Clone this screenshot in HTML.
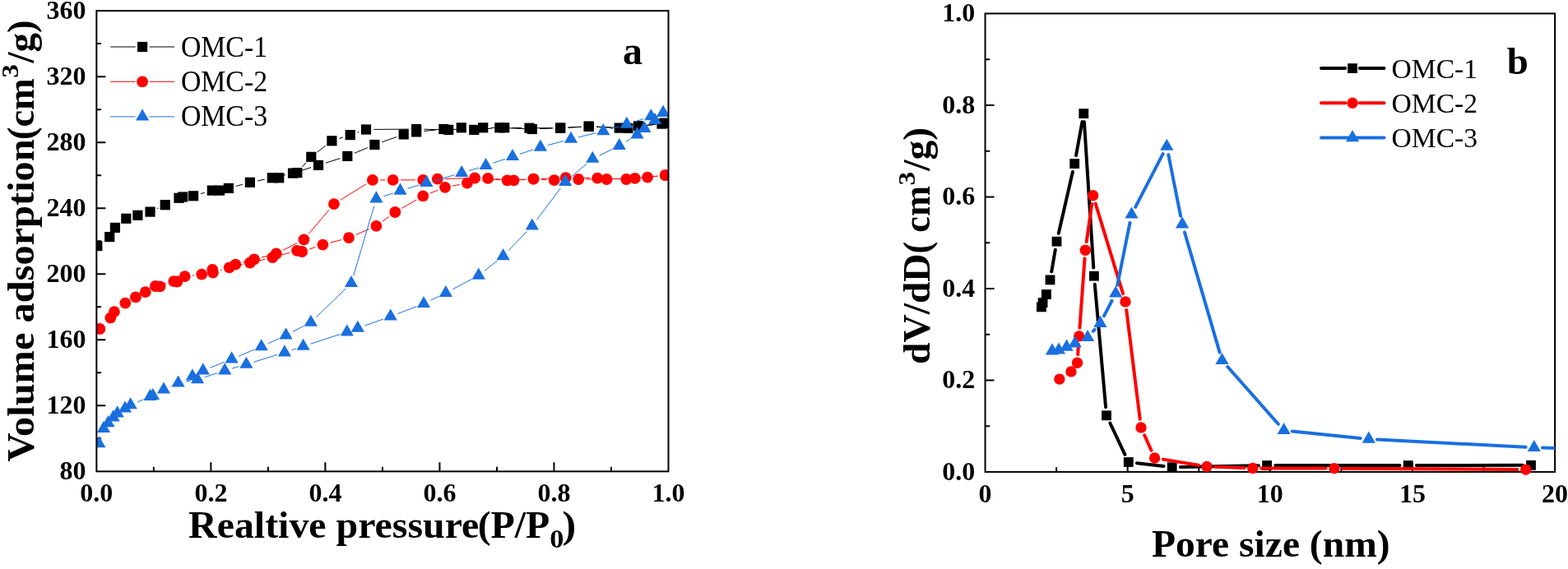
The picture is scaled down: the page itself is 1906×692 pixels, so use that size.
<!DOCTYPE html>
<html><head><meta charset="utf-8"><title>Figure</title>
<style>html,body{margin:0;padding:0;background:#fff}svg{display:block}</style>
</head><body>
<svg width="1906" height="692" viewBox="0 0 1906 692">
<rect width="1906" height="692" fill="#fff"/>
<defs><clipPath id="cl"><rect x="117.35" y="13.1" width="695.15" height="560.25"/></clipPath><clipPath id="cr"><rect x="1197.55" y="16.45" width="692.55" height="570"/></clipPath></defs>
<path d="M186.87 573.35v-5.7M256.38 573.35v-11M325.89 573.35v-5.7M395.41 573.35v-11M464.92 573.35v-5.7M534.44 573.35v-11M603.96 573.35v-5.7M673.47 573.35v-11M742.99 573.35v-5.7M117.35 533.33h5.7M117.35 493.31h11M117.35 453.30h5.7M117.35 413.28h11M117.35 373.26h5.7M117.35 333.24h11M117.35 293.23h5.7M117.35 253.21h11M117.35 213.19h5.7M117.35 173.17h11M117.35 133.15h5.7M117.35 93.14h11M117.35 53.12h5.7" stroke="#000" stroke-width="2" fill="none"/>
<g clip-path="url(#cl)">
<path d="M190.94 253.70L192.26 253.10M244.02 235.67L248.88 234.23M267.02 230.36L268.68 230.14M286.87 226.45L294.93 224.25M313.01 219.94L321.69 218.16M339.87 214.25L346.93 212.65M364.88 207.82L378.12 203.68M395.88 198.13L413.42 192.67M430.87 186.30L446.83 179.60M464.16 172.87L481.94 166.53M515.35 159.46L530.15 157.94M548.70 157.23L567.00 157.67M585.57 157.13L598.13 156.07M616.69 155.70L637.51 156.60M656.09 156.62L671.81 155.98M690.39 155.12L706.61 154.28M725.19 154.25L743.41 155.15M761.95 154.65L766.75 154.15M785.26 152.36L795.24 151.44" stroke="#000000" stroke-width="1.0" fill="none" stroke-linecap="butt"/>
<path d="M367.45 203.12L372.15 197.78M385.64 185.09L396.06 177.01M412.25 168.44L416.85 166.96M434.50 161.09L436.20 160.51M454.30 157.42L496.80 157.08M515.40 157.21L535.90 157.69M570.10 155.30L577.90 155.30M596.50 155.30L603.90 155.30M622.50 155.42L634.20 155.58M652.80 155.70L671.90 155.70M690.48 155.16L706.32 154.24M724.89 154.13L754.11 155.47M772.61 154.59L798.49 150.91" stroke="#000000" stroke-width="1.0" fill="none" stroke-linecap="butt"/>
<rect x="112.20" y="293.00" width="12.20" height="12.20" fill="#000000"/>
<rect x="127.10" y="282.00" width="12.20" height="12.20" fill="#000000"/>
<rect x="133.80" y="270.80" width="12.20" height="12.20" fill="#000000"/>
<rect x="147.20" y="259.70" width="12.20" height="12.20" fill="#000000"/>
<rect x="161.30" y="255.70" width="12.20" height="12.20" fill="#000000"/>
<rect x="176.40" y="251.50" width="12.20" height="12.20" fill="#000000"/>
<rect x="194.60" y="243.10" width="12.20" height="12.20" fill="#000000"/>
<rect x="211.40" y="234.70" width="12.20" height="12.20" fill="#000000"/>
<rect x="229.00" y="232.20" width="12.20" height="12.20" fill="#000000"/>
<rect x="251.70" y="225.50" width="12.20" height="12.20" fill="#000000"/>
<rect x="271.80" y="222.80" width="12.20" height="12.20" fill="#000000"/>
<rect x="297.80" y="215.70" width="12.20" height="12.20" fill="#000000"/>
<rect x="324.70" y="210.20" width="12.20" height="12.20" fill="#000000"/>
<rect x="349.90" y="204.50" width="12.20" height="12.20" fill="#000000"/>
<rect x="380.90" y="194.80" width="12.20" height="12.20" fill="#000000"/>
<rect x="416.20" y="183.80" width="12.20" height="12.20" fill="#000000"/>
<rect x="449.30" y="169.90" width="12.20" height="12.20" fill="#000000"/>
<rect x="484.60" y="157.30" width="12.20" height="12.20" fill="#000000"/>
<rect x="500.00" y="154.30" width="12.20" height="12.20" fill="#000000"/>
<rect x="533.30" y="150.90" width="12.20" height="12.20" fill="#000000"/>
<rect x="570.20" y="151.80" width="12.20" height="12.20" fill="#000000"/>
<rect x="601.30" y="149.20" width="12.20" height="12.20" fill="#000000"/>
<rect x="640.70" y="150.90" width="12.20" height="12.20" fill="#000000"/>
<rect x="675.00" y="149.50" width="12.20" height="12.20" fill="#000000"/>
<rect x="709.80" y="147.70" width="12.20" height="12.20" fill="#000000"/>
<rect x="746.60" y="149.50" width="12.20" height="12.20" fill="#000000"/>
<rect x="769.90" y="147.10" width="12.20" height="12.20" fill="#000000"/>
<rect x="798.40" y="144.50" width="12.20" height="12.20" fill="#000000"/>
<rect x="355.20" y="204.00" width="12.20" height="12.20" fill="#000000"/>
<rect x="372.20" y="184.70" width="12.20" height="12.20" fill="#000000"/>
<rect x="397.30" y="165.20" width="12.20" height="12.20" fill="#000000"/>
<rect x="419.60" y="158.00" width="12.20" height="12.20" fill="#000000"/>
<rect x="438.90" y="151.40" width="12.20" height="12.20" fill="#000000"/>
<rect x="500.00" y="150.90" width="12.20" height="12.20" fill="#000000"/>
<rect x="539.10" y="151.80" width="12.20" height="12.20" fill="#000000"/>
<rect x="554.70" y="149.20" width="12.20" height="12.20" fill="#000000"/>
<rect x="581.10" y="149.20" width="12.20" height="12.20" fill="#000000"/>
<rect x="607.10" y="149.20" width="12.20" height="12.20" fill="#000000"/>
<rect x="637.40" y="149.60" width="12.20" height="12.20" fill="#000000"/>
<rect x="675.10" y="149.60" width="12.20" height="12.20" fill="#000000"/>
<rect x="709.50" y="147.60" width="12.20" height="12.20" fill="#000000"/>
<rect x="757.30" y="149.80" width="12.20" height="12.20" fill="#000000"/>
<rect x="801.60" y="143.50" width="12.20" height="12.20" fill="#000000"/>
<rect x="216.10" y="233.40" width="12.20" height="12.20" fill="#000000"/>
<rect x="260.90" y="225.50" width="12.20" height="12.20" fill="#000000"/>
<rect x="333.10" y="210.20" width="12.20" height="12.20" fill="#000000"/>
<path d="M197.89 345.62L202.21 344.48M233.93 335.07L235.97 334.83M267.75 328.84L269.85 328.16M287.76 323.21L294.84 321.59M312.96 317.38L322.24 315.22M340.26 310.60L352.04 307.30M376.02 303.06L383.58 300.54M401.39 295.21L415.01 291.59M432.54 285.52L448.86 278.48M464.90 269.30L472.80 263.50M488.35 253.35L506.15 243.05M522.85 234.98L532.35 231.22M550.14 226.07L558.76 224.43M576.96 220.61L584.04 218.99M602.37 217.64L615.23 218.66M633.78 218.74L639.22 218.36M657.78 218.25L664.42 218.65M682.99 218.82L693.91 218.38M712.50 218.00L728.20 218.00M746.80 217.70L762.50 217.20M796.34 214.57L799.46 214.23" stroke="#FF0000" stroke-width="1.0" fill="none" stroke-linecap="butt"/>
<path d="M295.26 319.11L300.04 317.79M318.01 313.01L326.79 310.79M344.09 304.28L361.11 295.62M375.40 284.30L399.90 255.30M413.79 243.28L445.01 223.82M462.20 218.90L468.40 218.90M487.00 218.90L504.90 218.90M541.10 217.45L567.80 216.75M586.38 217.18L607.32 218.72M625.89 218.91L639.21 218.19M657.79 217.34L678.31 216.56M696.90 216.30L716.90 216.50M735.49 216.97L752.01 217.63M770.55 217.06L799.45 214.14" stroke="#FF0000" stroke-width="1.0" fill="none" stroke-linecap="butt"/>
<circle cx="121.30" cy="400.00" r="6.90" fill="#FF0000"/>
<circle cx="134.30" cy="386.60" r="6.90" fill="#FF0000"/>
<circle cx="138.90" cy="379.10" r="6.90" fill="#FF0000"/>
<circle cx="152.30" cy="368.70" r="6.90" fill="#FF0000"/>
<circle cx="164.90" cy="361.40" r="6.90" fill="#FF0000"/>
<circle cx="176.80" cy="355.20" r="6.90" fill="#FF0000"/>
<circle cx="188.90" cy="348.00" r="6.90" fill="#FF0000"/>
<circle cx="211.20" cy="342.10" r="6.90" fill="#FF0000"/>
<circle cx="224.70" cy="336.20" r="6.90" fill="#FF0000"/>
<circle cx="245.20" cy="333.70" r="6.90" fill="#FF0000"/>
<circle cx="258.90" cy="331.70" r="6.90" fill="#FF0000"/>
<circle cx="278.70" cy="325.30" r="6.90" fill="#FF0000"/>
<circle cx="303.90" cy="319.50" r="6.90" fill="#FF0000"/>
<circle cx="331.30" cy="313.10" r="6.90" fill="#FF0000"/>
<circle cx="361.00" cy="304.80" r="6.90" fill="#FF0000"/>
<circle cx="367.20" cy="306.00" r="6.90" fill="#FF0000"/>
<circle cx="392.40" cy="297.60" r="6.90" fill="#FF0000"/>
<circle cx="424.00" cy="289.20" r="6.90" fill="#FF0000"/>
<circle cx="457.40" cy="274.80" r="6.90" fill="#FF0000"/>
<circle cx="480.30" cy="258.00" r="6.90" fill="#FF0000"/>
<circle cx="514.20" cy="238.40" r="6.90" fill="#FF0000"/>
<circle cx="541.00" cy="227.80" r="6.90" fill="#FF0000"/>
<circle cx="567.90" cy="222.70" r="6.90" fill="#FF0000"/>
<circle cx="593.10" cy="216.90" r="6.90" fill="#FF0000"/>
<circle cx="624.50" cy="219.40" r="6.90" fill="#FF0000"/>
<circle cx="648.50" cy="217.70" r="6.90" fill="#FF0000"/>
<circle cx="673.70" cy="219.20" r="6.90" fill="#FF0000"/>
<circle cx="703.20" cy="218.00" r="6.90" fill="#FF0000"/>
<circle cx="737.50" cy="218.00" r="6.90" fill="#FF0000"/>
<circle cx="771.80" cy="216.90" r="6.90" fill="#FF0000"/>
<circle cx="787.10" cy="215.60" r="6.90" fill="#FF0000"/>
<circle cx="808.70" cy="213.20" r="6.90" fill="#FF0000"/>
<circle cx="286.30" cy="321.60" r="6.90" fill="#FF0000"/>
<circle cx="309.00" cy="315.30" r="6.90" fill="#FF0000"/>
<circle cx="335.80" cy="308.50" r="6.90" fill="#FF0000"/>
<circle cx="369.40" cy="291.40" r="6.90" fill="#FF0000"/>
<circle cx="405.90" cy="248.20" r="6.90" fill="#FF0000"/>
<circle cx="452.90" cy="218.90" r="6.90" fill="#FF0000"/>
<circle cx="477.70" cy="218.90" r="6.90" fill="#FF0000"/>
<circle cx="514.20" cy="218.90" r="6.90" fill="#FF0000"/>
<circle cx="531.80" cy="217.70" r="6.90" fill="#FF0000"/>
<circle cx="577.10" cy="216.50" r="6.90" fill="#FF0000"/>
<circle cx="616.60" cy="219.40" r="6.90" fill="#FF0000"/>
<circle cx="648.50" cy="217.70" r="6.90" fill="#FF0000"/>
<circle cx="687.60" cy="216.20" r="6.90" fill="#FF0000"/>
<circle cx="726.20" cy="216.60" r="6.90" fill="#FF0000"/>
<circle cx="761.30" cy="218.00" r="6.90" fill="#FF0000"/>
<circle cx="808.70" cy="213.20" r="6.90" fill="#FF0000"/>
<circle cx="194.50" cy="348.30" r="6.90" fill="#FF0000"/>
<circle cx="215.40" cy="342.50" r="6.90" fill="#FF0000"/>
<circle cx="258.30" cy="327.90" r="6.90" fill="#FF0000"/>
<path d="M123.11 530.70L123.29 530.10M167.22 488.88L173.98 485.92M207.47 469.95L208.13 469.65M225.75 464.16L230.95 463.24M248.93 458.69L264.37 453.61M282.13 448.11L290.47 445.69M308.28 440.35L337.02 431.45M354.72 425.75L359.78 424.05M377.44 418.22L412.96 406.68M443.56 395.98L465.94 388.02M483.38 381.56L506.32 372.74M523.36 365.33L533.54 360.37M550.10 351.92L573.60 339.38M589.10 329.24L604.30 317.26M618.04 304.79L640.36 281.51M652.39 267.37L681.51 228.63M694.20 215.19L713.20 199.11M728.67 189.05L744.43 181.45M760.66 172.44L766.64 168.66" stroke="#1A6FDF" stroke-width="1.0" fill="none" stroke-linecap="butt"/>
<path d="M255.43 447.23L272.97 440.17M290.18 433.11L309.12 425.19M326.13 417.68L339.17 411.62M355.86 403.43L369.54 396.37M384.48 385.63L420.32 350.87M429.64 335.48L454.76 250.62M466.22 238.76L477.68 234.94M495.41 229.32L509.49 225.08M527.35 219.87L552.25 212.83M570.10 207.61L581.70 204.09M599.40 198.39L614.20 193.31M631.82 187.36L648.08 181.94M665.89 176.60L685.01 171.50M703.03 166.89L724.27 161.71M742.22 156.87L752.88 153.73M770.65 148.25L782.45 144.45" stroke="#1A6FDF" stroke-width="1.0" fill="none" stroke-linecap="butt"/>
<path d="M120.40 530.20L128.50 544.30L112.30 544.30Z" fill="#1A6FDF"/>
<path d="M126.00 511.80L134.10 525.90L117.90 525.90Z" fill="#1A6FDF"/>
<path d="M131.50 505.10L139.60 519.20L123.40 519.20Z" fill="#1A6FDF"/>
<path d="M137.70 498.30L145.80 512.40L129.60 512.40Z" fill="#1A6FDF"/>
<path d="M142.70 493.30L150.80 507.40L134.60 507.40Z" fill="#1A6FDF"/>
<path d="M152.00 487.40L160.10 501.50L143.90 501.50Z" fill="#1A6FDF"/>
<path d="M158.70 483.20L166.80 497.30L150.60 497.30Z" fill="#1A6FDF"/>
<path d="M182.50 472.80L190.60 486.90L174.40 486.90Z" fill="#1A6FDF"/>
<path d="M199.00 464.40L207.10 478.50L190.90 478.50Z" fill="#1A6FDF"/>
<path d="M216.60 456.40L224.70 470.50L208.50 470.50Z" fill="#1A6FDF"/>
<path d="M240.10 452.20L248.20 466.30L232.00 466.30Z" fill="#1A6FDF"/>
<path d="M273.20 441.30L281.30 455.40L265.10 455.40Z" fill="#1A6FDF"/>
<path d="M299.40 433.70L307.50 447.80L291.30 447.80Z" fill="#1A6FDF"/>
<path d="M345.90 419.30L354.00 433.40L337.80 433.40Z" fill="#1A6FDF"/>
<path d="M368.60 411.70L376.70 425.80L360.50 425.80Z" fill="#1A6FDF"/>
<path d="M421.80 394.40L429.90 408.50L413.70 408.50Z" fill="#1A6FDF"/>
<path d="M434.80 389.70L442.90 403.80L426.70 403.80Z" fill="#1A6FDF"/>
<path d="M474.70 375.50L482.80 389.60L466.60 389.60Z" fill="#1A6FDF"/>
<path d="M515.00 360.00L523.10 374.10L506.90 374.10Z" fill="#1A6FDF"/>
<path d="M541.90 346.90L550.00 361.00L533.80 361.00Z" fill="#1A6FDF"/>
<path d="M581.80 325.60L589.90 339.70L573.70 339.70Z" fill="#1A6FDF"/>
<path d="M611.60 302.10L619.70 316.20L603.50 316.20Z" fill="#1A6FDF"/>
<path d="M646.80 265.40L654.90 279.50L638.70 279.50Z" fill="#1A6FDF"/>
<path d="M687.10 211.80L695.20 225.90L679.00 225.90Z" fill="#1A6FDF"/>
<path d="M720.30 183.70L728.40 197.80L712.20 197.80Z" fill="#1A6FDF"/>
<path d="M752.80 168.00L760.90 182.10L744.70 182.10Z" fill="#1A6FDF"/>
<path d="M774.50 154.30L782.60 168.40L766.40 168.40Z" fill="#1A6FDF"/>
<path d="M783.40 146.90L791.50 161.00L775.30 161.00Z" fill="#1A6FDF"/>
<path d="M796.10 136.90L804.20 151.00L788.00 151.00Z" fill="#1A6FDF"/>
<path d="M806.10 128.00L814.20 142.10L798.00 142.10Z" fill="#1A6FDF"/>
<path d="M233.90 448.30L242.00 462.40L225.80 462.40Z" fill="#1A6FDF"/>
<path d="M246.80 441.30L254.90 455.40L238.70 455.40Z" fill="#1A6FDF"/>
<path d="M281.60 427.30L289.70 441.40L273.50 441.40Z" fill="#1A6FDF"/>
<path d="M317.70 412.20L325.80 426.30L309.60 426.30Z" fill="#1A6FDF"/>
<path d="M347.60 398.30L355.70 412.40L339.50 412.40Z" fill="#1A6FDF"/>
<path d="M377.80 382.70L385.90 396.80L369.70 396.80Z" fill="#1A6FDF"/>
<path d="M427.00 335.00L435.10 349.10L418.90 349.10Z" fill="#1A6FDF"/>
<path d="M457.40 232.30L465.50 246.40L449.30 246.40Z" fill="#1A6FDF"/>
<path d="M486.50 222.60L494.60 236.70L478.40 236.70Z" fill="#1A6FDF"/>
<path d="M518.40 213.00L526.50 227.10L510.30 227.10Z" fill="#1A6FDF"/>
<path d="M561.20 200.90L569.30 215.00L553.10 215.00Z" fill="#1A6FDF"/>
<path d="M590.60 192.00L598.70 206.10L582.50 206.10Z" fill="#1A6FDF"/>
<path d="M623.00 180.90L631.10 195.00L614.90 195.00Z" fill="#1A6FDF"/>
<path d="M656.90 169.60L665.00 183.70L648.80 183.70Z" fill="#1A6FDF"/>
<path d="M694.00 159.70L702.10 173.80L685.90 173.80Z" fill="#1A6FDF"/>
<path d="M733.30 150.10L741.40 164.20L725.20 164.20Z" fill="#1A6FDF"/>
<path d="M761.80 141.70L769.90 155.80L753.70 155.80Z" fill="#1A6FDF"/>
<path d="M791.30 132.20L799.40 146.30L783.20 146.30Z" fill="#1A6FDF"/>
<path d="M806.10 128.00L814.20 142.10L798.00 142.10Z" fill="#1A6FDF"/>
<path d="M185.90 472.00L194.00 486.10L177.80 486.10Z" fill="#1A6FDF"/>
</g>
<rect x="117.35" y="13.1" width="695.15" height="560.25" fill="none" stroke="#000" stroke-width="2"/>
<g font-family="Liberation Serif, serif" font-weight="bold" font-size="32" fill="#000">
<text x="117.3" y="610.3" text-anchor="middle">0.0</text>
<text x="256.4" y="610.3" text-anchor="middle">0.2</text>
<text x="395.4" y="610.3" text-anchor="middle">0.4</text>
<text x="534.4" y="610.3" text-anchor="middle">0.6</text>
<text x="673.5" y="610.3" text-anchor="middle">0.8</text>
<text x="812.5" y="610.3" text-anchor="middle">1.0</text>
<text x="104.5" y="583.1" text-anchor="end">80</text>
<text x="104.5" y="503.1" text-anchor="end">120</text>
<text x="104.5" y="423.1" text-anchor="end">160</text>
<text x="104.5" y="343.0" text-anchor="end">200</text>
<text x="104.5" y="263.0" text-anchor="end">240</text>
<text x="104.5" y="183.0" text-anchor="end">280</text>
<text x="104.5" y="102.9" text-anchor="end">320</text>
<text x="104.5" y="22.9" text-anchor="end">360</text>
</g>
<g font-family="Liberation Serif, serif" font-weight="bold" fill="#000">
<text x="229.1" y="653.5" font-size="47" textLength="353.2" lengthAdjust="spacingAndGlyphs" xml:space="preserve">Realtive pressure</text>
<text x="580.7" y="653.5" font-size="47" textLength="87.6" lengthAdjust="spacingAndGlyphs" xml:space="preserve">(P/P</text>
<text x="668.3" y="666.4" font-size="31" textLength="17.2" lengthAdjust="spacingAndGlyphs" xml:space="preserve">0</text>
<text x="683.6" y="653.5" font-size="47" textLength="16.7" lengthAdjust="spacingAndGlyphs" xml:space="preserve">)</text>
</g>
<g font-family="Liberation Serif, serif" font-weight="bold" fill="#000" transform="translate(41,561.5) rotate(-90)">
<text x="0" y="0" font-size="47" textLength="392.2" lengthAdjust="spacingAndGlyphs" xml:space="preserve">Volume adsorption</text>
<text x="391.5" y="0" font-size="47" textLength="74.8" lengthAdjust="spacingAndGlyphs" xml:space="preserve">(cm</text>
<text x="466.7" y="-19.3" font-size="29" textLength="16.5" lengthAdjust="spacingAndGlyphs" xml:space="preserve">3</text>
<text x="485.1" y="0" font-size="47" textLength="52.1" lengthAdjust="spacingAndGlyphs" xml:space="preserve">/g)</text>
</g>
<path d="M134.2 57.00H164.6M181.6 57.00H212" stroke="#000000" stroke-width="1.0" fill="none"/>
<rect x="167.00" y="50.90" width="12.20" height="12.20" fill="#000000"/>
<text font-family="Liberation Serif, serif" font-size="35.4" x="219.9" y="68.7" textLength="105.2" lengthAdjust="spacingAndGlyphs">OMC-1</text>
<path d="M134.2 99.30H164.6M181.6 99.30H212" stroke="#FF0000" stroke-width="1.0" fill="none"/>
<circle cx="173.10" cy="99.30" r="6.90" fill="#FF0000"/>
<text font-family="Liberation Serif, serif" font-size="35.4" x="219.9" y="110.9" textLength="105.2" lengthAdjust="spacingAndGlyphs">OMC-2</text>
<path d="M134.2 141.90H164.6M181.6 141.90H212" stroke="#1A6FDF" stroke-width="1.0" fill="none"/>
<path d="M173.10 132.50L181.20 146.60L165.00 146.60Z" fill="#1A6FDF"/>
<text font-family="Liberation Serif, serif" font-size="35.4" x="219.9" y="153.1" textLength="105.2" lengthAdjust="spacingAndGlyphs">OMC-3</text>
<text font-family="Liberation Serif, serif" font-weight="bold" font-size="48" x="757" y="78.3">a</text>
<rect x="1197.55" y="16.45" width="692.55" height="557.4499999999999" fill="none" stroke="#000" stroke-width="2"/>
<path d="M1284.12 573.9v-5.7M1370.69 573.9v-11M1457.26 573.9v-5.7M1543.82 573.9v-11M1630.39 573.9v-5.7M1716.96 573.9v-11M1803.53 573.9v-5.7M1197.55 518.15h5.7M1197.55 462.41h11M1197.55 406.66h5.7M1197.55 350.92h11M1197.55 295.18h5.7M1197.55 239.43h11M1197.55 183.69h5.7M1197.55 127.94h11M1197.55 72.20h5.7" stroke="#000" stroke-width="2" fill="none"/>
<g clip-path="url(#cr)">
<path d="M1278.22 330.35L1282.78 303.75M1286.78 283.76L1303.92 209.04M1308.03 189.06L1315.47 148.14M1317.95 148.28L1329.25 325.52M1330.80 345.86L1344.10 495.14M1349.36 514.52L1367.44 552.78M1381.93 563.19L1414.57 567.01M1434.90 568.01L1529.90 566.19M1550.30 566.00L1701.50 566.00M1721.90 565.99L1850.80 565.81" stroke="#000000" stroke-width="4" fill="none" stroke-linecap="round"/>
<rect x="1260.00" y="367.50" width="11.80" height="11.80" fill="#000000"/>
<rect x="1261.70" y="362.20" width="11.80" height="11.80" fill="#000000"/>
<rect x="1266.00" y="352.10" width="11.80" height="11.80" fill="#000000"/>
<rect x="1270.60" y="334.50" width="11.80" height="11.80" fill="#000000"/>
<rect x="1278.60" y="287.80" width="11.80" height="11.80" fill="#000000"/>
<rect x="1300.30" y="193.20" width="11.80" height="11.80" fill="#000000"/>
<rect x="1311.40" y="132.20" width="11.80" height="11.80" fill="#000000"/>
<rect x="1324.00" y="329.80" width="11.80" height="11.80" fill="#000000"/>
<rect x="1339.10" y="499.40" width="11.80" height="11.80" fill="#000000"/>
<rect x="1365.90" y="556.10" width="11.80" height="11.80" fill="#000000"/>
<rect x="1418.80" y="562.30" width="11.80" height="11.80" fill="#000000"/>
<rect x="1534.20" y="560.10" width="11.80" height="11.80" fill="#000000"/>
<rect x="1705.80" y="560.10" width="11.80" height="11.80" fill="#000000"/>
<rect x="1855.10" y="559.90" width="11.80" height="11.80" fill="#000000"/>
<path d="M1310.19 431.12L1311.01 419.08M1312.44 398.73L1318.56 314.37M1320.73 294.10L1327.27 247.90M1331.67 247.56L1365.03 357.14M1369.26 377.02L1385.74 509.78M1391.17 529.21L1399.43 547.69M1413.67 558.65L1456.93 565.75M1477.19 567.77L1512.61 569.03M1533.00 569.42L1611.70 569.58M1632.10 569.67L1844.50 571.03" stroke="#FF0000" stroke-width="4" fill="none" stroke-linecap="round"/>
<circle cx="1287.90" cy="461.10" r="6.70" fill="#FF0000"/>
<circle cx="1302.00" cy="451.90" r="6.70" fill="#FF0000"/>
<circle cx="1309.50" cy="441.30" r="6.70" fill="#FF0000"/>
<circle cx="1311.70" cy="408.90" r="6.70" fill="#FF0000"/>
<circle cx="1319.30" cy="304.20" r="6.70" fill="#FF0000"/>
<circle cx="1328.70" cy="237.80" r="6.70" fill="#FF0000"/>
<circle cx="1368.00" cy="366.90" r="6.70" fill="#FF0000"/>
<circle cx="1387.00" cy="519.90" r="6.70" fill="#FF0000"/>
<circle cx="1403.60" cy="557.00" r="6.70" fill="#FF0000"/>
<circle cx="1467.00" cy="567.40" r="6.70" fill="#FF0000"/>
<circle cx="1522.80" cy="569.40" r="6.70" fill="#FF0000"/>
<circle cx="1621.90" cy="569.60" r="6.70" fill="#FF0000"/>
<circle cx="1854.70" cy="571.10" r="6.70" fill="#FF0000"/>
<path d="M1328.88 402.78L1330.62 400.82M1342.08 384.14L1351.52 365.86M1358.21 346.80L1373.49 270.90M1380.18 251.84L1413.62 187.16M1420.29 188.10L1435.11 262.70M1439.96 282.49L1482.64 428.61M1492.25 446.04L1553.85 515.76M1570.75 524.44L1653.65 532.96M1673.99 534.52L1854.61 543.78M1875.00 544.61L1919.80 545.99" stroke="#1A6FDF" stroke-width="4" fill="none" stroke-linecap="round"/>
<path d="M1279.00 417.30L1287.10 431.40L1270.90 431.40Z" fill="#1A6FDF"/>
<path d="M1287.00 416.40L1295.10 430.50L1278.90 430.50Z" fill="#1A6FDF"/>
<path d="M1296.60 412.60L1304.70 426.70L1288.50 426.70Z" fill="#1A6FDF"/>
<path d="M1306.70 408.40L1314.80 422.50L1298.60 422.50Z" fill="#1A6FDF"/>
<path d="M1322.10 401.00L1330.20 415.10L1314.00 415.10Z" fill="#1A6FDF"/>
<path d="M1337.40 383.80L1345.50 397.90L1329.30 397.90Z" fill="#1A6FDF"/>
<path d="M1356.20 347.40L1364.30 361.50L1348.10 361.50Z" fill="#1A6FDF"/>
<path d="M1375.50 251.50L1383.60 265.60L1367.40 265.60Z" fill="#1A6FDF"/>
<path d="M1418.30 168.70L1426.40 182.80L1410.20 182.80Z" fill="#1A6FDF"/>
<path d="M1437.10 263.30L1445.20 277.40L1429.00 277.40Z" fill="#1A6FDF"/>
<path d="M1485.50 429.00L1493.60 443.10L1477.40 443.10Z" fill="#1A6FDF"/>
<path d="M1560.60 514.00L1568.70 528.10L1552.50 528.10Z" fill="#1A6FDF"/>
<path d="M1663.80 524.60L1671.90 538.70L1655.70 538.70Z" fill="#1A6FDF"/>
<path d="M1864.80 534.90L1872.90 549.00L1856.70 549.00Z" fill="#1A6FDF"/>
<path d="M1930.00 536.90L1938.10 551.00L1921.90 551.00Z" fill="#1A6FDF"/>
</g>
<g font-family="Liberation Serif, serif" font-weight="bold" font-size="32" fill="#000">
<text x="1197.5" y="611" text-anchor="middle">0</text>
<text x="1370.7" y="611" text-anchor="middle">5</text>
<text x="1543.8" y="611" text-anchor="middle">10</text>
<text x="1717.0" y="611" text-anchor="middle">15</text>
<text x="1890.1" y="611" text-anchor="middle">20</text>
<text x="1185.3" y="583.7" text-anchor="end">0.0</text>
<text x="1185.3" y="472.2" text-anchor="end">0.2</text>
<text x="1185.3" y="360.7" text-anchor="end">0.4</text>
<text x="1185.3" y="249.2" text-anchor="end">0.6</text>
<text x="1185.3" y="137.7" text-anchor="end">0.8</text>
<text x="1185.3" y="26.3" text-anchor="end">1.0</text>
</g>
<g font-family="Liberation Serif, serif" font-weight="bold" fill="#000">
<text x="1400" y="676.5" font-size="47" textLength="289.6" lengthAdjust="spacingAndGlyphs" xml:space="preserve">Pore size (nm)</text>
</g>
<g font-family="Liberation Serif, serif" font-weight="bold" fill="#000" transform="translate(1130.4,440.9) rotate(-90)">
<text x="-2.0" y="0" font-size="47" textLength="134.4" lengthAdjust="spacingAndGlyphs" xml:space="preserve">dV/dD</text>
<text x="132.3" y="0" font-size="47" textLength="82.5" lengthAdjust="spacingAndGlyphs" xml:space="preserve">( cm</text>
<text x="215.4" y="-18.7" font-size="29" textLength="16.5" lengthAdjust="spacingAndGlyphs" xml:space="preserve">3</text>
<text x="233.1" y="0" font-size="47" textLength="52.8" lengthAdjust="spacingAndGlyphs" xml:space="preserve">/g)</text>
</g>
<path d="M1606 83.10H1635.2M1652.8 83.10H1682.5" stroke="#000000" stroke-width="4" fill="none" stroke-linecap="round"/>
<rect x="1638.10" y="77.20" width="11.80" height="11.80" fill="#000000"/>
<text font-family="Liberation Serif, serif" font-size="34.6" x="1691.6" y="94.6" textLength="104.4" lengthAdjust="spacingAndGlyphs">OMC-1</text>
<path d="M1606 125.30H1635.2M1652.8 125.30H1682.5" stroke="#FF0000" stroke-width="4" fill="none" stroke-linecap="round"/>
<circle cx="1644.00" cy="125.30" r="6.70" fill="#FF0000"/>
<text font-family="Liberation Serif, serif" font-size="34.6" x="1691.6" y="136.8" textLength="104.4" lengthAdjust="spacingAndGlyphs">OMC-2</text>
<path d="M1606 167.50H1682.4" stroke="#1A6FDF" stroke-width="4" fill="none" stroke-linecap="round"/>
<path d="M1644.00 158.10L1652.10 172.20L1635.90 172.20Z" fill="#1A6FDF"/>
<text font-family="Liberation Serif, serif" font-size="34.6" x="1691.6" y="179.0" textLength="104.4" lengthAdjust="spacingAndGlyphs">OMC-3</text>
<text font-family="Liberation Serif, serif" font-weight="bold" font-size="47" x="1831.7" y="90.4">b</text>
</svg>
</body></html>
